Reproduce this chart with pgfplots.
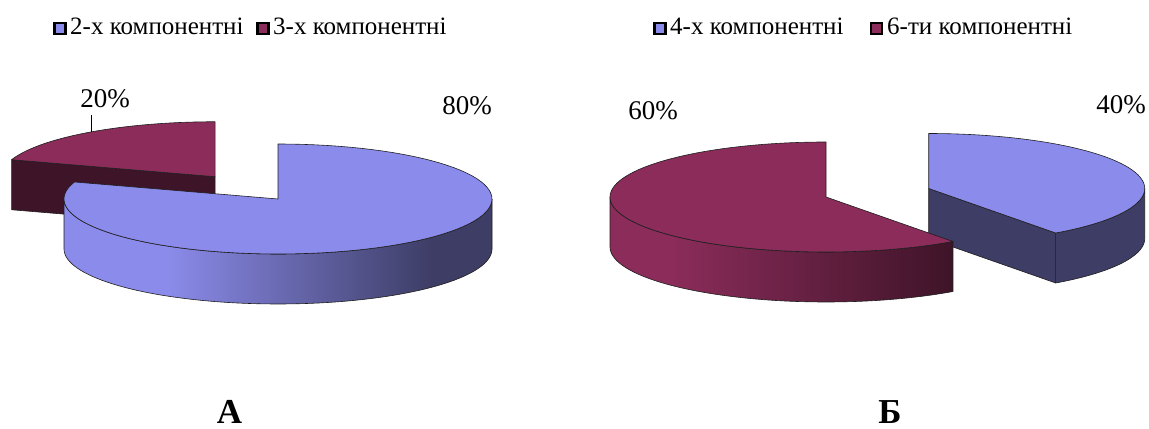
\documentclass[border=0pt]{standalone}
\usepackage{fontspec}
\setmainfont{Liberation Serif}
\usepackage{pgfplots}
\usepackage{pgfplotstable}
\pgfplotsset{compat=1.18}

\definecolor{bTop}{HTML}{8B8BEB}
\definecolor{bDark}{HTML}{3D3D66}
\definecolor{rTop}{HTML}{8B2C5A}
\definecolor{rDark}{HTML}{3E1428}
\definecolor{edge}{HTML}{1E1E1E}

\pgfdeclarehorizontalshading{bluewall}{100bp}{color(0bp)=(bTop); color(37bp)=(bTop); color(68bp)=(bDark); color(100bp)=(bDark)}
\pgfdeclarehorizontalshading{redwall}{100bp}{color(0bp)=(rTop); color(34bp)=(rTop); color(75bp)=(rDark); color(100bp)=(rDark)}

% pie A: 2-x, 3-x ; pie B: 4-x, 6-ti
\pgfplotstableread{
slice value
1 80
2 20
}\dataA
\pgfplotstableread{
slice value
1 40
2 60
}\dataB

\pgfplotstablegetelem{0}{value}\of\dataA \let\vAa\pgfplotsretval
\pgfplotstablegetelem{1}{value}\of\dataA \let\vAb\pgfplotsretval
\pgfplotstablegetelem{0}{value}\of\dataB \let\vBa\pgfplotsretval
\pgfplotstablegetelem{1}{value}\of\dataB \let\vBb\pgfplotsretval

% geometry (px, y up)
\def\ry{55}
\def\hh{50}
\def\RA{214}
\def\RB{216}
\def\cxA{278}\def\cyA{230}
\def\cxB{826}\def\cyB{232}

% pie A angles (clockwise from 12 o'clock)
\pgfmathsetmacro\aAone{90-3.6*\vAa}
\pgfmathsetmacro\aAtwo{\aAone-3.6*\vAb}
\pgfmathsetmacro\mA{(\aAone+\aAtwo)/2}
\pgfmathsetmacro\rcx{\cxA+0.5*\RA*cos(\mA)}
\pgfmathsetmacro\rcy{\cyA+0.5*\ry*sin(\mA)}
% pie B
\pgfmathsetmacro\aBone{90-3.6*\vBa}
\pgfmathsetmacro\aBtwo{\aBone-3.6*\vBb}
\pgfmathsetmacro\mB{(90+\aBone)/2}
\pgfmathsetmacro\bcx{\cxB+0.5*\RB*cos(\mB)}
\pgfmathsetmacro\bcy{\cyB+0.5*\ry*sin(\mB)}

\tikzset{
  toparc/.style n args={5}{insert path={-- plot[variable=\t,domain=#3:#4,samples=90] (axis cs:{#1+#5*cos(\t)},{#2+\ry*sin(\t)})}},
  toparcstart/.style n args={5}{insert path={plot[variable=\t,domain=#3:#4,samples=90] (axis cs:{#1+#5*cos(\t)},{#2+\ry*sin(\t)})}},
  botarc/.style n args={5}{insert path={-- plot[variable=\t,domain=#3:#4,samples=90] (axis cs:{#1+#5*cos(\t)},{#2-\hh+\ry*sin(\t)})}},
  ed/.style={draw=edge,line width=0.6bp,line join=round},
  lab/.style={font=\fontsize{27bp}{32bp}\selectfont,anchor=base,inner sep=0pt},
  leg/.style={font=\fontsize{25bp}{30bp}\selectfont,anchor=base west,inner sep=0pt},
  sq/.style={draw=black,line width=2.2bp,minimum size=11bp,inner sep=0pt},
}

\begin{document}
\begin{tikzpicture}
\begin{axis}[hide axis, scale only axis, width=1149bp, height=429bp,
  xmin=0, xmax=1149, ymin=0, ymax=429, clip=false]
\path (axis cs:0,0) rectangle (axis cs:1149,429);

% ---------- Pie A ----------
\filldraw[fill=rDark,ed] (axis cs:\rcx,\rcy) -- (axis cs:{\rcx+\RA*cos(\aAone)},{\rcy+\ry*sin(\aAone)})
  -- (axis cs:{\rcx+\RA*cos(\aAone)},{\rcy-\hh+\ry*sin(\aAone)}) -- (axis cs:\rcx,{\rcy-\hh}) -- cycle;
\filldraw[fill=rTop,ed] (axis cs:\rcx,\rcy) [toparc={\rcx}{\rcy}{\aAtwo}{\aAone}{\RA}] -- cycle;
\shadedraw[shading=bluewall,ed] [toparcstart={\cxA}{\cyA}{-180}{0}{\RA}] [botarc={\cxA}{\cyA}{0}{-180}{\RA}] -- cycle;
\filldraw[fill=bTop,ed] (axis cs:\cxA,\cyA) [toparc={\cxA}{\cyA}{\aAone}{90}{\RA}] -- cycle;

% ---------- Pie B ----------
\filldraw[fill=bDark,ed] (axis cs:\bcx,\bcy) -- (axis cs:{\bcx+\RB*cos(\aBone)},{\bcy+\ry*sin(\aBone)})
  -- (axis cs:{\bcx+\RB*cos(\aBone)},{\bcy-\hh+\ry*sin(\aBone)}) -- (axis cs:\bcx,{\bcy-\hh}) -- cycle;
\filldraw[fill=bDark,ed] [toparcstart={\bcx}{\bcy}{\aBone}{0}{\RB}] [botarc={\bcx}{\bcy}{0}{\aBone}{\RB}] -- cycle;
\filldraw[fill=bTop,ed] (axis cs:\bcx,\bcy) [toparc={\bcx}{\bcy}{\aBone}{90}{\RB}] -- cycle;
\shadedraw[shading=redwall,ed] [toparcstart={\cxB}{\cyB}{-180}{\aBone}{\RB}] [botarc={\cxB}{\cyB}{\aBone}{-180}{\RB}] -- cycle;
\filldraw[fill=rTop,ed] (axis cs:\cxB,\cyB) [toparc={\cxB}{\cyB}{\aBtwo}{\aBone}{\RB}] -- cycle;

% ---------- labels ----------
\node[lab] at (axis cs:105,321) {20\%};
\draw[black,line width=0.8bp] (axis cs:91,314) -- (axis cs:91,297);
\node[lab] at (axis cs:467,314) {80\%};
\node[lab] at (axis cs:653,309) {60\%};
\node[lab] at (axis cs:1121,315) {40\%};

% ---------- legends ----------
\node[sq,fill=bTop] at (axis cs:60,400.5) {};
\node[leg] at (axis cs:70,394) {2-х компонентні};
\node[sq,fill=rTop] at (axis cs:263,400.5) {};
\node[leg] at (axis cs:273,394) {3-х компонентні};
\node[sq,fill=bTop] at (axis cs:660,400.5) {};
\node[leg] at (axis cs:670,394) {4-х компонентні};
\node[sq,fill=rTop] at (axis cs:876.5,400.5) {};
\node[leg] at (axis cs:887,394) {6-ти компонентні};

% ---------- panel letters ----------
\node[font=\fontsize{35bp}{40bp}\selectfont\bfseries,anchor=base,inner sep=0pt] at (axis cs:229.5,6) {А};
\node[font=\fontsize{35bp}{40bp}\selectfont\bfseries,anchor=base,inner sep=0pt] at (axis cs:890,6) {Б};
\end{axis}
\end{tikzpicture}
\end{document}
